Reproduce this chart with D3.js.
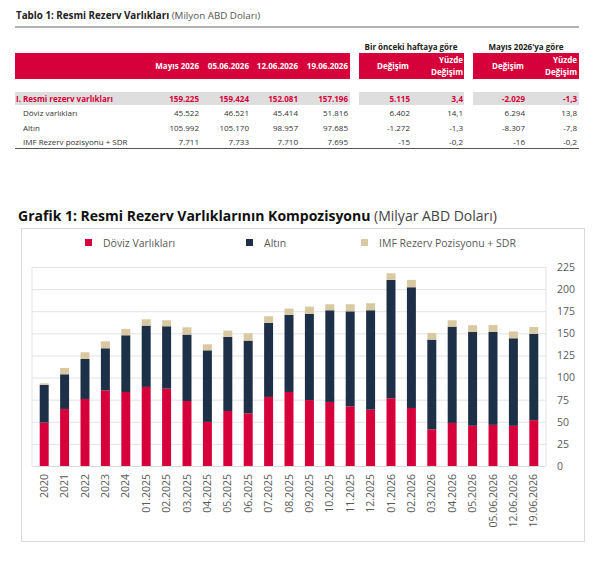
<!DOCTYPE html>
<html>
<head>
<meta charset="utf-8">
<script src="https://cdn.jsdelivr.net/npm/d3@7"></script>
<style>
  body { margin: 0; background: #fff; font-family: "Open Sans", sans-serif; }
  svg text { font-family: "Open Sans", sans-serif; }
</style>
</head>
<body>
<div id="chartDiv"></div>
<script>

// table data (Milyon ABD Doları)
var tableCols = ["Mayıs 2026", "05.06.2026", "12.06.2026", "19.06.2026"];
var tableRows = ["I. Resmi rezerv varlıkları", "Döviz varlıkları", "Altın", "IMF Rezerv pozisyonu + SDR"];
var tableLevels = [
    ["159.225", "159.424", "152.081", "157.196"],
    ["45.522", "46.521", "45.414", "51.816"],
    ["105.992", "105.170", "98.957", "97.685"],
    ["7.711", "7.733", "7.710", "7.695"]
];
var tableWeekly = [["5.115", "3,4"], ["6.402", "14,1"], ["-1.272", "-1,3"], ["-15", "-0,2"]];
var tableMonthly = [["-2.029", "-1,3"], ["6.294", "13,8"], ["-8.307", "-7,8"], ["-16", "-0,2"]];

// chart data (Milyar ABD Doları)
var periods = ["2020", "2021", "2022", "2023", "2024",
    "01.2025", "02.2025", "03.2025", "04.2025", "05.2025", "06.2025", "07.2025", "08.2025",
    "09.2025", "10.2025", "11.2025", "12.2025", "01.2026", "02.2026", "03.2026", "04.2026",
    "05.2026", "05.06.2026", "12.06.2026", "19.06.2026"];
var doviz = [49.0, 64.5, 75.8, 85.6, 83.7, 89.4, 87.5, 73.5, 49.8, 62.2, 59.6, 78.1, 83.7,
    74.5, 72.4, 67.5, 63.7, 76.6, 65.6, 41.5, 48.7, 45.5, 46.5, 45.4, 51.8];
var altin = [42.6, 39.2, 45.2, 47.5, 64.1, 69.3, 70.5, 75.1, 81.0, 83.7, 82.2, 83.7, 87.1,
    97.4, 103.7, 107.4, 112.4, 133.8, 136.5, 101.4, 108.9, 106.0, 105.2, 99.0, 97.7];
var imf = [1.9, 7.2, 7.6, 7.9, 7.2, 7.2, 6.8, 8.2, 6.8, 7.2, 8.3, 7.5, 7.2,
    8.3, 6.8, 8.0, 7.9, 7.5, 8.3, 7.5, 7.2, 7.7, 7.7, 7.7, 7.7];
var seriesNames = ["Döviz Varlıkları", "Altın", "IMF Rezerv Pozisyonu + SDR"];
var yTicks = [0, 25, 50, 75, 100, 125, 150, 175, 200, 225];

var red = "#d6003a", navy = "#1e3048", tan = "#d9c9a3";

var svg = d3.select("#chartDiv").append("svg")
    .attr("width", 600)
    .attr("height", 570);

// ---------- Table ----------
var title1 = svg.append("text")
    .attr("x", 16).attr("y", 19)
    .style("font-size", "9.8px").style("fill", "#222");
title1.append("tspan").style("font-weight", "bold").text("Tablo 1: Resmi Rezerv Varlıkları ");
title1.append("tspan").style("fill", "#555").text("(Milyon ABD Doları)");

svg.append("line")
    .attr("x1", 15).attr("x2", 579).attr("y1", 27).attr("y2", 27)
    .style("stroke", "#999").style("stroke-width", 1.5);

// header blocks
var blocks = [[15, 350], [359, 464], [473, 579]];
blocks.forEach(function(b) {
    svg.append("rect")
        .attr("x", b[0]).attr("y", 53).attr("width", b[1] - b[0]).attr("height", 26)
        .style("fill", red);
    svg.append("rect")
        .attr("x", b[0]).attr("y", 92).attr("width", b[1] - b[0]).attr("height", 13)
        .style("fill", "#dedede");
});

var valX = [199, 249, 298, 348];
var chgX = [410, 463, 525, 577];
var rowY = [101.5, 116, 130.5, 145];

svg.selectAll(".colhead")
    .data(tableCols)
  .enter().append("text")
    .attr("class", "colhead")
    .attr("x", function(d, i) { return valX[i]; })
    .attr("y", 69)
    .style("text-anchor", "end")
    .style("font-size", "8px").style("font-weight", "bold").style("fill", "#fff")
    .text(function(d) { return d; });

[[411, "Bir önceki haftaya göre"], [526, "Mayıs 2026'ya göre"]].forEach(function(g) {
    svg.append("text")
        .attr("x", g[0]).attr("y", 50)
        .style("text-anchor", "middle")
        .style("font-size", "8px").style("font-weight", "bold").style("fill", "#222")
        .text(g[1]);
});

[[393, 463], [508, 577]].forEach(function(p) {
    svg.append("text")
        .attr("x", p[0]).attr("y", 69)
        .style("text-anchor", "middle")
        .style("font-size", "8px").style("font-weight", "bold").style("fill", "#fff")
        .text("Değişim");
    svg.append("text")
        .attr("x", p[1]).attr("y", 63)
        .style("text-anchor", "end")
        .style("font-size", "8px").style("font-weight", "bold").style("fill", "#fff")
        .text("Yüzde");
    svg.append("text")
        .attr("x", p[1]).attr("y", 75)
        .style("text-anchor", "end")
        .style("font-size", "8px").style("font-weight", "bold").style("fill", "#fff")
        .text("Değişim");
});

tableRows.forEach(function(r, i) {
    var first = (i == 0);
    var color = first ? red : "#333";
    var weight = first ? "bold" : "normal";
    svg.append("text")
        .attr("x", first ? 16 : 23).attr("y", rowY[i])
        .style("font-size", "8px").style("font-weight", weight).style("fill", color)
        .text(r);
    var vals = tableLevels[i].concat(tableWeekly[i], tableMonthly[i]);
    var xs = valX.concat(chgX);
    vals.forEach(function(v, j) {
        svg.append("text")
            .attr("x", xs[j]).attr("y", rowY[i])
            .style("text-anchor", "end")
            .style("font-size", "8px").style("font-weight", weight).style("fill", color)
            .text(v);
    });
});

svg.append("line")
    .attr("x1", 15).attr("x2", 579).attr("y1", 148.5).attr("y2", 148.5)
    .style("stroke", "#555").style("stroke-width", 1);

// ---------- Chart ----------
var title2 = svg.append("text")
    .attr("x", 18).attr("y", 221)
    .style("font-size", "14px").style("fill", "#111");
title2.append("tspan").style("font-weight", "bold").text("Grafik 1: Resmi Rezerv Varlıklarının Kompozisyonu ");
title2.append("tspan").style("fill", "#444").text("(Milyar ABD Doları)");

svg.append("rect")
    .attr("x", 21.5).attr("y", 228.5).attr("width", 563).attr("height", 313)
    .style("fill", "none").style("stroke", "#d9d9d9");

// legend
var legendX = [85, 246, 361];
var legendColors = [red, navy, tan];
seriesNames.forEach(function(s, i) {
    svg.append("rect")
        .attr("x", legendX[i]).attr("y", 239).attr("width", 7).attr("height", 7)
        .style("fill", legendColors[i]);
    svg.append("text")
        .attr("x", legendX[i] + 18).attr("y", 246.5)
        .style("font-size", "10.5px").style("fill", "#595959")
        .text(s);
});

var x = d3.scaleBand()
    .domain(periods)
    .range([34, 544])
    .paddingInner(0.56)
    .paddingOuter(0.28);

var y = d3.scaleLinear()
    .domain([0, 225])
    .range([466, 267]);

var data = periods.map(function(p, i) {
    return {period: p, doviz: doviz[i], altin: altin[i], imf: imf[i]};
});
var stack = d3.stack().keys(["doviz", "altin", "imf"]);
var layers = stack(data);

// gridlines and right axis
var ya = d3.axisRight(y).tickValues(yTicks).tickSize(-(546 - 32)).tickPadding(11);
var gy = svg.append("g")
    .attr("class", "y axis")
    .attr("transform", "translate(546,0)")
    .call(ya);
gy.select(".domain").remove();
gy.selectAll(".tick line").style("stroke", "#e3e3e3");
gy.selectAll(".tick text").style("font-size", "10.5px").style("fill", "#595959");

svg.append("line")
    .attr("x1", 32).attr("x2", 32).attr("y1", 267).attr("y2", 466)
    .style("stroke", "#e3e3e3");
svg.append("line")
    .attr("x1", 546).attr("x2", 546).attr("y1", 267).attr("y2", 466)
    .style("stroke", "#e3e3e3");

svg.selectAll(".layer")
    .data(layers)
  .enter().append("g")
    .attr("class", "layer")
    .style("fill", function(d, i) { return legendColors[i]; })
  .selectAll("rect")
    .data(function(d) { return d; })
  .enter().append("rect")
    .attr("x", function(d) { return x(d.data.period); })
    .attr("width", x.bandwidth())
    .attr("y", function(d) { return y(d[1]); })
    .attr("height", function(d) { return y(d[0]) - y(d[1]); });

// x labels
var xa = d3.axisBottom(x).tickSize(0).tickPadding(0);
var gx = svg.append("g")
    .attr("class", "x axis")
    .attr("transform", "translate(0,466)")
    .call(xa);
gx.select(".domain").style("stroke", "#d9d9d9");
gx.selectAll(".tick text")
    .style("font-size", "10.5px").style("fill", "#595959")
    .style("text-anchor", "end")
    .attr("transform", "rotate(-90)")
    .attr("x", -8).attr("y", 0).attr("dy", "0.35em");

</script>
</body>
</html>
